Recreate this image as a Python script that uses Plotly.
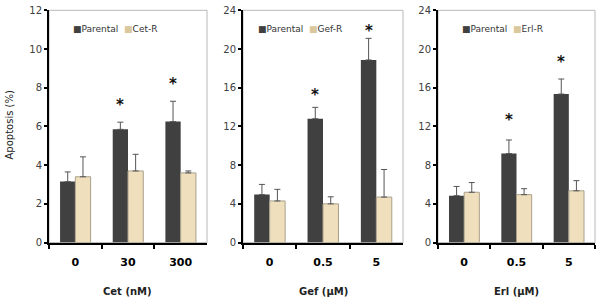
import plotly.graph_objects as go

# ---------------- data ----------------
cet_doses = ["0", "30", "300"]
cet_parental = [3.15, 5.85, 6.25]
cet_parental_err = [0.5, 0.37, 1.05]
cet_res = [3.4, 3.7, 3.6]
cet_res_err = [1.03, 0.86, 0.1]
cet_stars = [None, 7.1, 8.2]

gef_doses = ["0", "0.5", "5"]
gef_parental = [4.96, 12.8, 18.87]
gef_parental_err = [1.05, 1.17, 2.23]
gef_res = [4.3, 4.0, 4.7]
gef_res_err = [1.2, 0.73, 2.85]
gef_stars = [None, 15.3, 21.9]

erl_doses = ["0", "0.5", "5"]
erl_parental = [4.85, 9.2, 15.35]
erl_parental_err = [0.95, 1.4, 1.55]
erl_res = [5.2, 4.95, 5.35]
erl_res_err = [1.0, 0.62, 1.05]
erl_stars = [None, 12.7, 18.7]

panel_titles = ["Cet (nM)", "Gef (\u03bcM)", "Erl (\u03bcM)"]
res_names = ["Cet-R", "Gef-R", "Erl-R"]
y_max = [12, 24, 24]
y_dtick = [2, 4, 4]

panels = [
    (cet_doses, cet_parental, cet_parental_err, cet_res, cet_res_err, cet_stars),
    (gef_doses, gef_parental, gef_parental_err, gef_res, gef_res_err, gef_stars),
    (erl_doses, erl_parental, erl_parental_err, erl_res, erl_res_err, erl_stars),
]

# ---------------- layout geometry ----------------
W, H = 600, 304
x_dom = [(49, 207), (243, 403), (438, 595)]
y_top, y_zero = 5.5, 246.5
legend_x = [71, 256, 460]
BARGAP = 0.42

FONT = "DejaVu Sans, Verdana, sans-serif"
DARK = "#404040"
BEIGE = "#f0dfbd"

fig = go.Figure()
annotations = []
shapes = []

for i, (doses, par, par_err, res, res_err, stars) in enumerate(panels):
    n = "" if i == 0 else str(i + 1)
    xa, ya = "x" + n, "y" + n
    fig.add_trace(go.Bar(
        x=doses, y=par, name="Parental", xaxis=xa, yaxis=ya,
        marker=dict(color=DARK, line=dict(width=0)),
        error_y=dict(type="data", array=par_err, arrayminus=[0] * len(par),
                     symmetric=False, color="#555555", thickness=1, width=3),
        showlegend=False,
    ))
    fig.add_trace(go.Bar(
        x=doses, y=res, name=res_names[i], xaxis=xa, yaxis=ya,
        marker=dict(color=BEIGE, line=dict(width=1, color="#a8a08c")),
        error_y=dict(type="data", array=res_err, arrayminus=[0] * len(res),
                     symmetric=False, color="#555555", thickness=1, width=3),
        showlegend=False,
    ))
    # significance stars above the Parental bars (category index positions)
    for j, s in enumerate(stars):
        if s is not None:
            annotations.append(dict(
                x=j - (1 - BARGAP) / 4, y=s, xref=xa, yref=ya, text="<b>*</b>",
                showarrow=False, yanchor="middle",
                font=dict(family=FONT, size=15, color="#111111"),
            ))
    d0, d1 = x_dom[i]
    fig.update_layout(**{
        "xaxis" + n: dict(
            domain=[d0 / W, d1 / W], anchor=ya, type="category",
            range=[-0.5, len(doses) - 0.5], tickangle=0,
            showline=True, linecolor="black", linewidth=2,
            ticks="outside", tickson="boundaries", ticklen=4, tickwidth=2,
            tickcolor="black", showgrid=False, zeroline=False,
            tickfont=dict(family=FONT, size=11, color="black", weight="bold"),
            ticklabelstandoff=8,
        ),
        "yaxis" + n: dict(
            domain=[1 - y_zero / H, 1 - y_top / H], anchor=xa,
            range=[0, y_max[i]], dtick=y_dtick[i], tick0=0,
            showline=True, linecolor="black", linewidth=2,
            ticks="outside", ticklen=3, tickwidth=2, tickcolor="black",
            showgrid=False, zeroline=False,
            tickfont=dict(family=FONT, size=10, color="#404040"),
        ),
    })
    # light grey frame around plot area
    shapes.append(dict(
        type="rect", xref=xa + " domain", yref=ya + " domain",
        x0=0, x1=1, y0=0, y1=1, line=dict(color="#b8b8b8", width=1),
        layer="below",
    ))
    # x axis title
    annotations.append(dict(
        x=0.5, xref=xa + " domain", y=1 - 297 / H, yref="paper",
        text=panel_titles[i], showarrow=False, yanchor="middle",
        font=dict(family=FONT, size=10, color="#222222", weight="bold"),
    ))
    # legend
    annotations.append(dict(
        x=legend_x[i] / W, xref="paper", y=1 - 25 / H, yref="paper",
        xanchor="left", yanchor="middle", showarrow=False,
        text=(f'<span style="color:{DARK}">\u25a0</span>Parental&nbsp;&nbsp;'
              f'<span style="color:#d9c79e">\u25a0</span>{res_names[i]}'),
        font=dict(family=FONT, size=9, color="#333333"),
    ))

# y axis title
annotations.append(dict(
    x=9 / W, xref="paper", y=1 - 125 / H, yref="paper", textangle=-90,
    text="Apoptosis (%)", showarrow=False, xanchor="center", yanchor="middle",
    font=dict(family=FONT, size=10, color="#222222"),
))

fig.update_layout(
    width=W, height=H, margin=dict(l=0, r=0, t=0, b=0),
    paper_bgcolor="white", plot_bgcolor="white",
    barmode="group", bargap=BARGAP, bargroupgap=0,
    annotations=annotations, shapes=shapes,
    font=dict(family=FONT),
)

fig.write_html(
    "out.html",
    config={"displayModeBar": False},
    post_script="document.body.style.margin='0';document.body.style.overflow='hidden';",
)
